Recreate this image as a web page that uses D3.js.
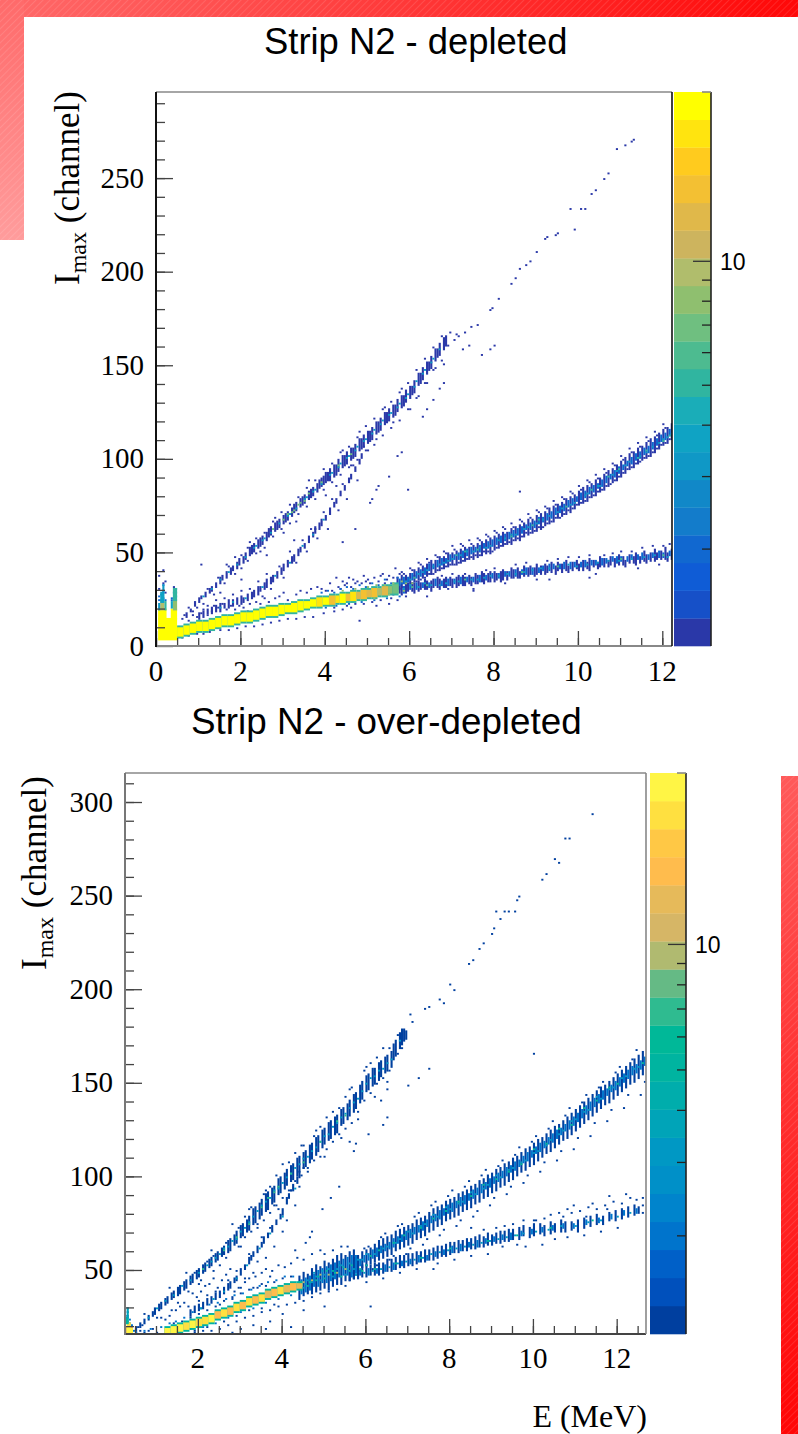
<!DOCTYPE html>
<html><head><meta charset="utf-8">
<script src="https://cdn.jsdelivr.net/npm/d3@7"></script>
<style>html,body{margin:0;padding:0;background:#fff}svg{display:block}</style>
</head><body><svg id="c" width="798" height="1434"></svg>
<script>
// axis labels
const xTicksTop=[0,2,4,6,8,10,12], yTicksTop=[0,50,100,150,200,250];
const xTicksBot=[2,4,6,8,10,12], yTicksBot=[50,100,150,200,250,300];
const barTicks=[2,3,4,5,6,7,8,9,10];
// 20-level palettes, bottom to top
const paletteTop=["#2A38A8","#1650C8","#0F5CD6","#1168D0","#137CCB","#1188C8","#0F98C6","#0FA3C4","#1AADB8","#30B5A0","#4DBB90","#6FBF80","#8FBF6F","#B0BD6C","#CDB45E","#E0B84A","#F3C033","#FFCB1E","#FFE40F","#FFFF00"];
const paletteBot=["#003F9F","#0050BC","#0060C8","#0074CC","#0084CC","#0090C8","#0098C4","#00A4B8","#00ADAC","#00B4A0","#00B898","#2FBB90","#65BA85","#B0BA70","#D6B666","#E6BA5A","#FFBC4D","#FFC845","#FFE040","#FFF545"];

// TOP PANEL: bins are E/0.05, channels are Imax.  blocks: bin0,bin1,lo,hi,count
const topLowBlocks=[[1,9,3,14,26],[1,4,14,19,26],[7,9,14,19,26],[2,3,19,23,9],[8,9,19,24,8],[2,3,23,28,4],[8,9,24,30,5],[3,3,28,32,3],[1,1,19,22,3],[4,4,19,23,5],[7,7,20,23,4]];
const topCore=[[10,12,5,9,26],[13,15,6,10,26],[16,18,7,11,26],[19,21,8,12,26],[22,24,8,12,26],[25,27,9,13,26],[28,30,10,14,26],[31,33,11,15,26],[34,36,11,15,26],[37,39,12,16,26],[40,42,13,17,26],[43,45,13,17,26],[46,48,14,18,26],[49,51,15,19,26],[52,54,16,20,26],[55,57,16,20,26],[58,60,17,21,26],[61,63,18,21,26],[64,66,18,22,26],[67,69,19,23,26],[70,72,20,23,26],[73,75,21,24,26],
[76,78,21,25,20],[79,81,22,25,26],[82,84,22,26,15],[85,86,23,26,20],[87,89,23,27,26],[90,91,24,27,15],[92,94,24,28,20],[95,96,25,28,12],[97,99,25,29,15],[100,101,26,29,12],[102,104,26,30,15],[105,106,27,30,10],[107,109,27,31,12],[110,111,28,31,8],[112,114,28,32,7]];
const topUpperLineRuns=[14,15,17,16,18,19,18,21,23,20,23,25,21,25,26,23,26,28,25,28,30,26,29,31,28,31,33,30,33,36,31,35,37,33,36,39,35,38,41,36,40,42,38,41,44,39,43,46,41,44,47,42,46,49,44,48,52,45,49,53,46,50,54,48,52,56,49,53,57,50,54,58,52,56,60,53,58,62,54,59,63,56,61,65,57,62,66,58,63,67,60,65,69,61,66,70,62,67,71,64,69,73,65,71,75,66,72,76,68,74,78,69,75,79,70,76,80,72,78,82,73,79,83,74,80,84,76,82,86,77,84,88,78,85,89,79,86,90,80,87,92,81,88,92,82,88,94,84,90,96,85,91,96,86,93,99,88,95,101,89,96,101,90,97,103,92,99,105,93,100,105,94,101,107,96,104,110,97,105,110,98,106,112,100,108,114,101,109,114,102,110,116,104,113,119,105,114,119,106,115,121,108,118,124,109,119,124,110,120,126,112,122,128,113,123,128,114,125,131,116,127,133,117,128,133,118,130,136,120,132,138,121,134,138,122,135,141,124,139,145,125,140,145,126,142,148,128,145,151,129,147,151,130,148,154,132,152,158,133,154,158,134,155,161,136,158,164,137,160,165];
const topUpperLineN3=[22,26,26,30,30,35,34,39,38,43,42,47,46,52,50,56,54,60,58,65,62,69,66,73,70,78,74,82,78,86,82,91,86,95,90,100,94,104,98,109,102,113,106,118,110,123,114,127,118,132,122,138,126,145,130,151,134,158,47,53,51,57,63,70,71,79,75,83,83,92,87,97,91,101,95,106,99,110,103,115,107,120,111,124,115,129,119,134,123,141,127,147,131,153];
const topUpperLineN7=[60,67,62,70,64,71,65,72,67,75,68,76,70,77,55,62,78,87,72,81,86,96,92,102];
const topUpperLineN1=[30,28,33,43,37,47,44,55,49,50,56,68,60,60,66,66,72,88,80,80,85,85,88,104,92,96,96,114,100,104,104,110,108,127,112,119,116,137,120,126,124,133,128,140,132,148,136,150,15,20,17,16,19,20,22,22,24,30,27,27,29,36,32,33,34,42,37,38,40,41,40,48,43,45,43,52,47,49,47,57,51,52,51,60,55,58,55,66,59,62,59,71,63,65,63,75,67,70,67,79,71,74,71,84,75,78,75,88,79,83,79,94,83,87,83,97,87,91,87,103,91,95,91,106,95,99,95,111,99,104,99,117,103,107,103,121,107,112,107,126,111,116,111,130,115,120,115,135,119,126,119,140,123,132,123,147,127,140,127,153,131,147,131,159,135,152,135,165,138,160,139,167,141,163,143,165];
const topTailN1=[142,166,146,167,149,170,152,171,158,179,159,180,162,185,168,193,170,196,172,201,175,203,177,205,180,210,184,217,185,218,189,219,190,220,196,233,198,222,201,233,203,233,206,241,208,243,212,249,214,252,218,265,222,267,225,269,226,270,131,131,134,137,136,140,145,158,148,160,158,158,160,160,154,155,114,101,116,103,104,83,101,76,105,85,94,62,119,83,172,82,102,78,110,90,126,122,128,126];
const topMiddleRuns=[20,14,17,22,15,18,24,17,19,26,17,20,28,18,21,30,18,22,32,20,22,34,20,24,36,21,24,38,22,25,40,22,26,41,23,25,43,24,27,45,25,28,46,26,29,48,27,31,49,29,31,51,30,33,52,31,35,54,33,36,55,34,37,57,36,39,59,38,41,60,40,43,62,42,45,64,44,47,65,45,48,67,48,51,68,50,52,70,52,54,72,55,58,74,58,60,75,60,63,77,62,65,78,64,67,80,67,69,82,70,73,84,74,76,85,76,78,87,80,82,89,83,85,91,87,89,92,89,91,94,93,95,96,97,99,97,100,102];
const topMiddleN1=[24,21,28,24,32,25,36,27,40,29,44,30,48,34,50,26,52,38,54,30,58,42,60,36,63,50,66,44,69,56,71,50,73,62,76,57,79,71,81,62,83,78,86,72,88,86,90,78,93,96,95,88,98,106];
const topMiddleN3=[30,20,36,23,42,25,50,31,56,37,63,44,69,53,74,59,79,67];
const topLowerRuns=[112,27,31,113,28,32,115,28,32,116,27,31,118,28,33,119,29,33,121,29,33,122,28,33,124,29,34,125,30,33,127,30,35,128,30,34,130,29,34,131,31,35,133,31,36,134,30,35,136,31,35,137,31,36,139,32,36,140,31,35,142,31,36,143,32,37,145,32,37,146,32,36,148,33,37,149,32,36,151,33,38,152,33,37,154,34,39,155,33,38,157,34,38,158,34,39,160,34,39,161,35,38,163,34,39,164,35,40,166,35,39,168,36,41,169,36,40,171,36,41,172,36,39,174,37,42,176,37,41,177,38,42,179,37,41,180,38,43,182,38,42,184,38,43,185,39,42,187,39,44,189,38,42,190,40,44,192,39,43,194,40,45,195,39,42,197,40,44,199,41,45,200,40,43,202,40,45,204,41,44,205,40,46,207,42,45,209,41,44,210,42,47,212,42,46,214,42,45,215,43,47,217,42,46,219,43,48,221,43,47,222,42,45,224,44,48,226,44,47,227,43,49,229,44,47,231,45,50,232,44,48,234,45,49,236,45,51,237,46,49,239,46,50,241,46,52,242,45,49,244,46,51];
const topLowerRunsN2=[113,29,31,117,28,31,120,30,32,123,30,33,126,31,33,129,31,33,132,32,35,135,32,34,138,32,35,141,33,35,144,33,36,147,34,36,150,34,36,153,34,37,156,35,37,159,36,38,162,36,38,165,37,39,167,37,39,170,37,40,173,38,40,175,38,41,178,38,41,181,39,41,183,40,42,186,40,43,188,41,43,191,41,43,193,41,44,196,41,44,198,42,44,201,42,44,203,42,45,206,43,45,208,43,45,211,43,46,213,44,46,216,45,47,218,44,47,220,45,47,223,45,47,225,46,48,228,46,48,230,46,49,233,46,48,235,47,49,238,47,50,240,47,49,243,48,50];
const topLowerN1=[135,37,140,38,146,38,150,29,156,40,160,41,165,33,170,43,175,44,180,35,185,45,190,46,195,47,200,47,205,48,208,38,212,48,216,49,220,50,225,50,228,41,230,52,235,53,238,43,240,53,243,54,122,37,130,38,138,30];
const topLowerN3=[117,30,124,31,130,32,137,33,143,34,149,35,155,36,162,37,170,38,178,40,186,41,195,43,204,43,214,45,225,46,236,48,120,32,127,33,134,32,141,34,152,35,158,37,166,38,174,39,182,41,199,42,209,44,219,45,231,47,242,47];
const topLowerN6=[121,31,128,32,146,35,173,39,190,42,220,46,240,48];
const topBranchRuns=[114,30,36,116,31,37,118,31,37,120,33,38,122,34,40,124,35,41,126,36,42,128,37,43,130,38,45,132,39,45,134,40,47,136,41,47,138,42,49,140,43,49,142,43,50,144,44,51,146,45,52,148,46,52,150,46,53,152,47,54,154,48,55,156,49,56,158,49,57,160,51,58,162,52,59,164,53,60,166,54,60,168,54,62,170,56,63,172,56,64,174,58,65,176,59,67,178,60,67,180,61,69,182,62,70,184,64,71,186,65,73,188,66,74,190,68,75,192,69,76,194,70,78,196,71,79,198,73,80,200,75,82,202,76,84,204,77,85,206,79,86,208,80,88,210,82,89,212,83,91,214,85,93,216,87,94,218,88,96,220,90,98,222,92,100,224,94,102,226,95,103,228,97,105,230,99,106,232,100,108,234,101,110,236,103,111,238,105,113,240,107,115,242,108,116,244,110,118];
const topBranchRunsN2=[115,32,35,117,33,36,119,34,36,121,35,38,123,36,39,125,37,40,127,38,41,129,40,43,131,41,43,133,42,45,135,43,46,137,44,46,139,45,48,141,46,48,143,46,49,145,47,50,147,48,51,149,49,52,151,50,52,153,50,53,155,52,54,157,52,55,159,53,56,161,54,57,163,55,58,165,56,59,167,57,60,169,58,61,171,59,62,173,60,63,175,62,64,177,62,65,179,63,66,181,65,68,183,66,68,185,67,70,187,68,71,189,70,73,191,71,74,193,72,75,195,74,77,197,75,78,199,77,79,201,78,81,203,79,82,205,81,84,207,82,85,209,84,86,211,85,88,213,87,90,215,89,91,217,90,93,219,92,95,221,94,96,223,96,98,225,97,100,227,99,102,229,100,103,231,102,105,233,103,106,235,105,108,237,107,110,239,109,112,241,110,113,243,112,115];
const topBranchEdgeN1=[115,30,117,38,119,32,121,40,123,34,125,43,127,36,129,44,131,38,133,47,135,41,137,49,139,43,141,51,143,44,145,53,147,46,149,54,151,48,153,56,155,50,157,58,159,50,161,60,163,53,165,62,167,55,169,63,171,57,173,66,175,60,177,68,179,61,181,71,183,63,185,73,187,66,189,75,191,68,193,78,195,72,197,81,199,75,201,83,203,77,205,87,207,80,209,89,211,83,213,92,215,86,217,96,219,90,221,99,223,94,225,103,227,97,229,106,231,100,233,109,235,103,237,112,239,107,241,116,243,110,117,31,121,33,125,35,129,38,133,40,137,42,141,43,145,45,149,47,153,48,157,50,161,52,165,54,169,56,173,58,177,60,181,63,185,65,189,68,193,70,197,73,201,76,205,79,209,82,213,85,217,88,221,92,225,95,229,98,233,101,237,105,241,108,116,39,120,41,124,44,128,46,132,48,136,50,140,53,144,54,148,56,152,57,156,59,160,61,164,63,168,65,172,67,176,70,180,72,184,74,188,77,192,79,196,82,200,85,204,88,208,91,212,94,216,97,220,101,224,105,228,108,232,111,236,114,240,118];
const topBranchN3=[120,35,126,39,131,42,136,44,140,46,147,50,153,52,158,53,165,57,170,59,176,63,183,67,190,71,196,75,203,80,209,85,216,91,222,96,229,101,235,106,240,110,244,113,118,34,124,38,128,40,134,43,138,45,144,48,150,50,156,52,162,56,168,59,174,62,180,65,186,69,192,73,198,76,204,81,210,85,218,93,224,98,232,103,238,108,242,111];
const topBranchN5=[122,36,142,48,168,58,181,67,206,83,219,94,232,104,243,112,146,50,152,51,178,64,194,74,214,90,228,100,240,109];
// scatter around the main band and the low-energy spikes
const topScatterN1=[3,33,4,28,1,30,3,40,1,37,8,31,9,28,4,34,21,43,12,14,13,16,15,13,17,18,19,15,21,17,22,19,24,16,26,18,27,21,29,20,31,22,33,19,35,21,37,19,39,21,41,20,43,18,44,22,47,23,49,22,51,25,53,23,56,25,58,26,60,28,62,24,66,27,68,29,71,28,73,30,76,31,78,30,82,33,85,36,88,34,91,36,94,33,98,37,103,36,107,38,110,37,113,41,12,4,15,5,19,6,22,6,25,7,30,8,34,8,38,9,42,10,46,10,50,11,54,12,58,13,62,14,66,14,70,15,74,15,79,17,84,18,88,19,92,20,96,13,104,21,110,22,114,24,118,26,128,26,150,30,205,36,186,35,40,35,52,48,65,56,88,55,75,62,83,29,86,31,89,32,92,31,95,34,97,33,100,35,101,33,105,34,106,37,108,33,109,35,112,36,115,38,80,29,87,30,90,33,93,35,99,34,84,20,90,21,94,22,98,22,102,23,106,24,111,25];
const topMidN2=[78,28,81,29,84,28,87,30,90,31,93,30,96,32,99,31,102,33,105,32,108,35,111,33,114,36,116,33,80,20,85,21,91,22,97,23,103,24,109,25,115,26];
const topMidN8=[88,29,94,30,100,31,104,32,108,32,112,33,116,34,118,33,121,33,103,25,110,27,117,29];
const topSpikeN2=[2,24,3,25,2,27,3,29,3,32,8,25,9,26,8,28,9,30,1,24,1,26,4,24,7,24,7,25];
// BOTTOM PANEL
const botLowBlocks=[[5,8,16,19,12],[6,7,19,21,20],[6,8,16,18,26],[5,6,21,24,5],[6,6,24,29,4]];
const botCore=[[24,26,15,18,26],[27,29,16,19,26],[30,32,17,20,26],[33,35,18,21,20],[36,38,19,22,26],[39,41,20,23,20],[42,44,21,24,20],[45,47,22,25,26],[48,50,24,27,15],[51,53,25,28,20],[54,56,26,29,15],[57,59,28,31,20],[60,62,29,32,15],[63,65,31,34,20],[66,68,32,35,15],[69,71,33,36,20],[72,74,35,38,12],[75,77,36,39,15],[78,80,37,40,20],[81,83,38,41,12],[84,86,39,42,15],[87,89,40,42,12]];
const botUpperLineRuns=[10,17,19,12,19,21,14,21,23,16,23,25,18,25,27,19,26,29,21,28,31,22,29,32,24,31,34,25,32,35,27,34,37,28,35,38,30,36,40,31,37,41,33,39,43,34,40,44,36,42,46,37,43,47,39,45,49,40,46,50,42,48,52,43,49,53,45,51,55,46,52,56,48,54,58,49,55,59,51,57,61,52,58,62,54,59,65,55,60,66,57,63,68,58,64,70,60,67,73,61,68,74,63,70,76,64,71,78,66,74,82,67,75,83,69,77,85,70,79,87,72,81,90,73,82,91,75,85,93,76,86,94,78,90,98,79,91,99,81,93,101,82,95,103,84,97,105,85,98,106,87,100,109,88,102,110,90,104,112,91,105,113,93,107,116,94,109,117,96,111,120,97,113,121,99,115,124,100,117,125,102,119,128,103,120,129,105,122,131,106,123,132,108,127,135,109,128,136,111,130,138,112,132,140,114,134,143,115,136,144,117,139,148,118,141,150,120,145,153,121,146,154,123,148,157,124,149,157,126,151,160,127,153,161,129,155,163,130,156,164,132,158,166,133,162,170,134,164,172,136,168,176,137,170,178,138,172,178,139,173,177];
const botUpperLineN3=[16,24,20,29,24,33,28,36,32,41,36,44,40,48,44,52,48,56,52,61,56,65,60,70,64,75,68,81,72,86,76,92,80,96,84,101,88,106,92,110,96,115,100,121,104,126,108,131,112,136,116,141,120,149,124,153,128,157,132,162,136,172,46,54,50,58,54,62,58,66,62,72,66,78,70,84,74,88,78,93,82,99,86,104,90,109,94,113,98,118,102,122,106,128,110,133,114,139,118,145,122,152,126,156,130,160];
const botUpperLineN7=[42,50,58,67,70,83,73,88,76,91,78,94,84,101,98,118,106,129,52,60,64,74,90,107,110,132];
const botUpperLineN1=[14,26,20,24,26,40,30,32,34,48,40,42,46,60,50,52,56,74,60,62,64,82,68,74,72,92,76,84,80,106,84,92,90,116,92,102,96,124,100,110,104,134,108,120,112,146,116,130,120,158,124,142,128,168,130,146,35,38,38,48,41,44,44,54,47,49,47,57,53,56,53,64,59,62,59,72,62,67,62,78,65,70,65,83,68,72,71,76,71,90,74,80,74,94,77,84,77,100,80,88,83,92,83,107,86,97,86,112,89,100,89,116,92,104,95,108,95,121,98,110,98,126,101,114,101,131,104,118,107,122,107,136,110,125,110,142,113,128,113,147,116,134,119,140,119,156,122,144,122,160,125,149,125,163,128,152,131,156,131,168,135,165,135,175,137,168];
const botTailN1=[141,186,142,182,148,189,150,190,155,194,157,192,160,202,162,199,169,213,171,215,174,221,176,224,180,229,181,232,184,237,182,241,186,241,188,241,191,241,192,247,193,249,204,258,206,261,210,269,212,267,215,280,217,280,228,293,200,165,112,118,115,117,114,113,121,122,128,127,130,131,127,140,130,150,93,67,94,70,91,64,99,82,103,88,107,94,86,60,70,42,74,46,66,40,140,148,145,152,150,157];
const botMiddleRuns=[36,25,28,38,27,30,40,28,31,42,29,32,44,31,34,46,32,35,48,34,37,50,35,38,52,37,40,54,39,42,55,40,43,57,43,45,58,44,46,60,47,50,62,50,52,64,53,56,65,55,57,66,57,59,68,59,62,70,62,64,71,64,67,73,67,69,75,70,73,77,74,76,79,77,79,80,79,82,82,85,88,83,88,90,85,92,95,87,96,99,88,99,102];
const botMiddleN1=[40,33,44,36,48,38,50,31,54,44,56,34,58,49,60,40,62,45,64,58,66,48,68,54,70,67,72,56,74,72,76,62,78,82,80,70,82,76,84,92,86,84,88,94,90,104];
const botMiddleN3=[41,29,47,34,52,38,58,45,63,52,69,61,74,69,80,78,86,93];
const botMidRuns=[88,34,46,90,36,48,92,37,47,94,37,50,96,38,52,98,39,51,100,40,54,102,39,53,104,41,55,106,42,57,108,42,58,110,44,57,112,44,59,114,45,60];
const botMidRunsN2=[89,37,44,91,38,45,93,39,46,95,41,47,97,41,49,99,43,50,101,43,51,103,44,52,105,45,53,107,46,54,109,47,55,111,47,56,113,48,57,115,48,57];
const botMidN3=[90,40,92,44,94,43,96,46,98,44,100,47,102,50,104,46,106,50,108,52,110,47,112,53,114,50,116,55,91,42,95,48,99,49,103,47,107,52,111,50];
const botMidN5=[88,43,93,43,97,46,101,49,105,48,109,51,113,52,117,50,120,52,92,41,96,44,100,45,104,49,108,46,112,49];
const botMidN10=[90,43,94,44,98,47,102,47,106,48,110,50];
const botLowerRuns=[112,44,49,114,45,50,116,45,51,118,46,52,120,46,52,122,47,52,124,47,53,126,47,53,128,48,53,130,49,55,132,49,55,134,50,56,136,51,57,138,51,57,140,52,58,142,52,58,144,53,59,146,54,59,148,54,60,150,55,60,152,55,61,154,56,62,156,57,62,158,57,63,160,58,64,162,59,64,164,59,65,166,60,65,168,60,66,170,61,66,172,61,67,174,62,68,176,62,67,178,63,69,180,63,68,182,64,69,184,64,70,186,65,70,188,65,71,190,66,71,193,66,72,195,68,73,198,67,72,200,68,74,203,69,74,205,68,73,208,69,75,210,70,74,213,70,76,215,70,75,218,71,75,221,70,76,224,72,77,227,73,78,230,74,79,233,74,78,236,76,80,239,76,81,242,77,82,245,78,83,248,79,84,250,80,83];
const botLowerRunsN2=[113,46,48,117,47,49,121,47,50,125,48,50,129,49,52,133,50,53,137,52,54,141,53,55,145,54,57,149,55,57,153,57,59,157,58,60,161,59,62,165,60,63,169,62,64,173,62,65,177,64,66,181,65,67,185,66,68,189,66,69,194,68,70,199,69,71,204,70,72,209,71,73,214,72,74,219,72,74,225,74,76,231,75,77,237,77,79,243,79,81,249,80,82];
const botLowerN3=[115,47,119,48,123,49,127,50,131,51,135,53,139,54,143,55,147,56,151,58,155,59,159,60,163,61,167,62,171,63,175,64,179,65,183,66,187,67,191,68,195,69,201,70,207,71,213,73,220,73,226,75,232,76,240,78,246,80];
const botLowerN6=[118,49,124,50,134,53,146,56,160,61,178,65,192,68,208,72,228,76];
const botLowerN1=[170,72,176,71,182,72,186,73,190,74,195,76,200,76,205,77,208,79,214,78,218,80,222,81,226,83,230,82,234,84,238,86,242,85,246,88,249,87,252,84,252,88,252,80,196,62,204,63,210,66,216,67,224,68,232,70,240,72,178,58,152,50,201,76,212,80,219,84,228,85,236,89,244,90,120,43,128,45,136,48,144,50,154,53,162,55,170,57,185,62,192,63,216,82,225,78,235,82];
const botBranchRuns=[114,49,56,116,50,57,118,51,59,120,52,60,122,53,61,124,54,63,126,55,65,128,56,66,130,57,67,132,58,68,134,60,70,136,61,71,138,62,72,140,63,73,142,64,74,144,66,76,146,67,77,148,68,78,150,70,80,152,71,82,154,73,83,156,74,84,158,76,86,160,77,87,162,78,88,164,79,90,166,81,91,168,82,92,170,83,94,172,85,95,174,86,97,176,88,98,178,89,100,180,91,101,182,92,103,184,94,104,186,95,106,188,97,107,190,98,109,192,100,110,194,102,112,196,103,114,198,105,115,200,106,117,202,108,119,204,110,120,206,112,122,208,113,124,210,115,126,212,117,127,214,119,129,216,120,131,218,122,133,220,124,135,222,126,137,224,128,139,226,130,141,228,132,143,230,134,145,232,136,147,234,138,148,236,139,150,238,141,152,240,143,154,242,145,156,244,147,158,246,149,160,248,150,162,250,152,164,252,154,166,254,156,168];
const botBranchRunsN2=[115,51,54,117,52,55,119,54,57,121,55,58,123,56,60,125,57,61,127,59,62,129,60,63,131,61,64,133,62,66,135,64,67,137,65,68,139,66,70,141,67,71,143,69,72,145,70,73,147,71,75,149,73,76,151,75,78,153,76,79,155,77,81,157,79,82,159,80,84,161,81,85,163,83,86,165,84,88,167,85,89,169,87,90,171,88,92,173,90,93,175,91,95,177,93,96,179,94,98,181,96,99,183,97,101,185,99,102,187,100,104,189,102,105,191,103,107,193,105,108,195,107,110,197,108,112,199,110,113,201,112,115,203,113,117,205,115,118,207,117,120,209,118,122,211,120,124,213,122,125,215,124,127,217,125,129,219,127,131,221,129,133,223,131,135,225,133,137,227,135,139,229,137,141,231,139,143,233,141,145,235,143,146,237,145,148,239,146,150,241,148,152,243,150,154,245,152,156,247,154,158,249,155,159,251,157,161,253,159,163];
const botBranchEdgeN1=[115,47,119,61,123,50,127,67,131,55,135,73,139,58,143,78,147,63,151,84,155,68,159,89,163,73,167,94,171,78,175,100,179,84,183,105,187,90,191,111,195,96,199,118,203,102,207,125,211,108,215,132,219,114,223,139,227,121,231,147,235,129,239,155,243,136,247,162,251,143,121,62,129,69,137,74,145,80,153,86,161,92,169,97,177,103,185,108,193,115,201,121,209,129,217,136,225,143,233,150,241,158,249,167,117,49,125,52,133,57,141,61,149,66,157,71,165,76,173,81,181,88,189,94,197,100,205,107,213,113,221,120,229,128,237,135,245,143,253,150];
const botBranchN3=[118,55,124,58,130,62,136,66,142,69,148,74,154,78,160,82,166,86,172,90,178,95,184,99,190,104,196,108,202,113,208,119,214,124,220,130,226,135,232,141,238,147,244,153,250,158,120,58,128,61,134,64,140,70,146,73,152,79,158,83,164,85,170,91,176,93,182,100,188,103,194,107,200,112,206,116,212,122,218,129,224,134,230,142,236,146,242,152,248,157];
const botBranchN6=[122,57,133,64,146,72,158,81,170,89,182,98,194,106,206,117,218,127,230,140,240,149,252,160,126,60,138,68,152,77,164,86,176,95,188,102,200,114,212,125,224,136,236,147];
// scatter
const botScatterN1=[10,16,12,17,14,16,16,17,18,18,20,16,11,19,13,20,22,24,24,23,26,25,27,28,29,28,31,30,33,32,35,30,37,37,39,35,41,38,43,41,45,42,47,45,49,40,51,44,53,47,55,50,57,38,59,40,62,43,64,45,67,46,70,48,72,50,75,49,78,52,81,51,84,53,87,56,90,55,94,58,98,60,100,58,104,60,108,62,111,62,30,14,34,15,38,16,42,17,46,17,50,18,54,20,58,22,62,24,66,25,70,27,74,28,78,30,82,31,86,32,90,33,94,35,98,37,102,38,106,39,110,41,56,16,60,18,66,20,74,22,80,26,84,19,90,28,72,18,100,30,122,30,28,21,32,22,36,24,40,26,44,28,48,30,52,33,56,35,60,37,64,39,68,40,72,41,76,43,80,45,84,46,30,14,38,17,44,19,52,22,58,25,64,28,70,29,76,31];
const botScatterN2=[14,17,17,18,22,19,26,21,29,22,33,24,37,27,41,29,45,31,49,32,53,34,57,36,61,37,65,39,69,41,73,43,77,44,81,46,85,46,30,16,36,18,42,19,48,21,54,24,60,27,66,29,72,32,78,34,84,36];
const botSpikeN2=[6,22,6,25,6,27,7,23,5,25,6,29,8,20,9,17,10,16,4,18,5,17,7,21];
const rect=(svg,x,y,w,h,fill)=>svg.append("rect").attr("x",x).attr("y",y).attr("width",w).attr("height",h).attr("fill",fill);
const svg=d3.select("#c");
const defs=svg.append("defs");
function grad(id,x1,y1,x2,y2,c1,c2){const g=defs.append("linearGradient").attr("id",id).attr("gradientUnits","userSpaceOnUse").attr("x1",x1).attr("y1",y1).attr("x2",x2).attr("y2",y2);g.append("stop").attr("offset",0).attr("stop-color",c1);g.append("stop").attr("offset",1).attr("stop-color",c2);}
grad("gt",0,0,798,0,"#FF6A6A","#FF0808");grad("gl",0,0,0,240,"#FF6A6A","#FF9C9C");grad("gr",0,776,0,1434,"#FF5A5A","#FF0505");
const pat=defs.append("pattern").attr("id","hatch").attr("width",5).attr("height",5).attr("patternUnits","userSpaceOnUse").attr("patternTransform","rotate(45)");
pat.append("line").attr("x1",0).attr("y1",0).attr("x2",0).attr("y2",5).attr("stroke","#fff").attr("stroke-opacity",.16).attr("stroke-width",1.4);
const blur=defs.append("filter").attr("id","soft").attr("x",0).attr("y",0).attr("width",1).attr("height",1);blur.append("feGaussianBlur").attr("stdDeviation",.38);
[[24,0,774,17,"gt"],[0,0,24,240,"gl"],[781,776,17,658,"gr"]].forEach(([x,y,w,h,g])=>{rect(svg,x,y,w,h,`url(#${g})`);rect(svg,x,y,w,h,"url(#hatch)");});

const binW=0.05;
const triples=(a,n)=>d3.range(0,a.length,3).map(i=>({b0:a[i],b1:a[i],lo:a[i+1],hi:a[i+2],n}));
const pairs=(a,n)=>d3.range(0,a.length,2).map(i=>({b0:a[i],b1:a[i],lo:a[i+1],hi:a[i+1],n}));
const blocks=a=>a.map(([b0,b1,lo,hi,n])=>({b0,b1,lo,hi,n}));
const halo=(a,n)=>a.map(([b0,b1,lo,hi])=>({b0,b1,lo:lo-1,hi:hi+1,n}));

function panel(o){
  const x=d3.scaleLinear(o.xDom,o.xR),y=d3.scaleLinear(o.yDom,o.yR);
  const z=d3.scaleLog([1.16,26],[0,1]).clamp(true),col=d3.scaleQuantize([0,1],o.pal);
  const id="clip"+o.id;
  defs.append("clipPath").attr("id",id).append("rect").attr("x",o.xR[0]).attr("y",o.yR[1]).attr("width",o.xR[1]-o.xR[0]).attr("height",o.yR[0]-o.yR[1]);
  const g=svg.append("g").attr("clip-path",`url(#${id})`).append("g").attr("filter","url(#soft)");
  g.selectAll("rect").data(o.cells).join("rect")
   .attr("x",d=>x(d.b0*binW)).attr("width",d=>x((d.b1+1)*binW)-x(d.b0*binW))
   .attr("y",d=>y(d.hi+1)).attr("height",d=>y(d.lo)-y(d.hi+1)).attr("fill",d=>col(z(d.n)));
  const tickAxis=(ax,at,vals,len)=>{const s=svg.append("g").attr("transform",at).call(ax.tickValues(vals).tickSize(len).tickFormat(""));s.select(".domain").remove();s.selectAll("line").attr("stroke",o.tickCol).attr("stroke-width",1.3);};
  tickAxis(d3.axisRight(y),`translate(${o.xR[0]},0)`,o.yMinor,9);
  tickAxis(d3.axisRight(y),`translate(${o.xR[0]},0)`,o.yMajor,17);
  tickAxis(d3.axisTop(x),`translate(0,${o.yR[0]})`,o.xMinor,8);
  tickAxis(d3.axisTop(x),`translate(0,${o.yR[0]})`,o.xMajor,15);
  const fr=(x1,y1,x2,y2,c,w)=>svg.append("line").attr("x1",x1).attr("y1",y1).attr("x2",x2).attr("y2",y2).attr("stroke",c).attr("stroke-width",w);
  fr(o.xR[0],o.yR[1],o.xR[1],o.yR[1],"#888",1.6);
  fr(o.xR[0],o.yR[0],o.xR[1],o.yR[0],o.botCol,2);
  fr(o.xR[0],o.yR[0]+1,o.xR[0],o.yR[1],o.leftCol,2);
  fr(o.xR[1],o.yR[0],o.xR[1],o.yR[1],o.rightCol,1.6);
  const serif="'Liberation Serif',serif",sans="'Liberation Sans',Arial,sans-serif";
  svg.append("g").selectAll("text").data(o.xMajor).join("text").attr("x",d=>x(d)).attr("y",o.yR[0]+o.xLabDy).attr("text-anchor","middle").attr("font-family",serif).attr("font-size",29).attr("fill","#000").text(d=>d);
  svg.append("g").selectAll("text").data(o.yMajor).join("text").attr("x",o.xR[0]-12).attr("y",d=>y(d)+9.5).attr("text-anchor","end").attr("font-family",serif).attr("font-size",29).attr("fill","#000").text(d=>d);
  svg.append("text").attr("x",o.titleX).attr("y",o.titleY).attr("font-family",sans).attr("font-size",o.titleSize).attr("fill","#000").text(o.title);
  const yt=svg.append("text").attr("transform",`translate(${o.ytX},${o.ytY}) rotate(-90)`).attr("font-family",serif).attr("font-size",35).attr("fill","#000");
  yt.append("tspan").text("I");yt.append("tspan").attr("font-size",24).attr("dy",7).text("max");yt.append("tspan").attr("dy",-7).text(" (channel)");
  const lv=d3.scaleLinear([0,o.pal.length],o.yR);
  svg.append("g").selectAll("rect").data(o.pal).join("rect").attr("x",o.barX0).attr("width",o.barX1-o.barX0).attr("y",(d,i)=>lv(i+1)).attr("height",(d,i)=>lv(i)-lv(i+1)+.3).attr("fill",d=>d);
  fr(o.barX1,o.yR[0],o.barX1,o.yR[1],"#222",1.6);
  const zy=d3.scaleLog([1.16,25.7],o.yR);
  const minor=svg.append("g").attr("transform",`translate(${o.barX1},0)`).call(d3.axisLeft(zy).tickValues(barTicks.slice(0,-1)).tickSize(9).tickFormat(""));minor.select(".domain").remove();minor.selectAll("line").attr("stroke","#222").attr("stroke-width",1.3);
  const maj=svg.append("g").attr("transform",`translate(${o.barX1},0)`).call(d3.axisLeft(zy).tickValues([10]).tickSize(18).tickFormat(""));maj.select(".domain").remove();maj.selectAll("line").attr("stroke","#333").attr("stroke-width",1.3);
  fr(o.barX1-9,o.yR[1],o.barX1,o.yR[1],"#888",1.6);
  svg.append("text").attr("x",o.barX1+9).attr("y",zy(10)+9).attr("font-family",sans).attr("font-size",23).attr("fill","#000").text("10");
}
const topCells=[...triples(topUpperLineRuns,1),...triples(topMiddleRuns,1),...triples(topLowerRuns,1),...triples(topBranchRuns,1),...pairs(topUpperLineN1,1),...pairs(topMiddleN1,1),...pairs(topLowerN1,1),...pairs(topBranchEdgeN1,1),...pairs(topTailN1,1),...pairs(topScatterN1,1),...triples(topLowerRunsN2,2),...triples(topBranchRunsN2,2),...pairs(topSpikeN2,2),...pairs(topMidN2,2),...halo(topCore,5),...blocks(topLowBlocks),...blocks(topCore),...pairs(topMidN8,8),...pairs(topUpperLineN3,3),...pairs(topMiddleN3,3),...pairs(topLowerN3,3),...pairs(topBranchN3,3),...pairs(topBranchN5,5),...pairs(topLowerN6,6),...pairs(topUpperLineN7,7)];
const botCells=[...triples(botUpperLineRuns,1),...triples(botMiddleRuns,1),...triples(botMidRuns,1),...triples(botLowerRuns,1),...triples(botBranchRuns,1),...pairs(botUpperLineN1,1),...pairs(botMiddleN1,1),...pairs(botBranchEdgeN1,1),...pairs(botTailN1,1),...pairs(botScatterN1,1),...pairs(botLowerN1,1),...triples(botMidRunsN2,2),...triples(botLowerRunsN2,2),...triples(botBranchRunsN2,2),...pairs(botScatterN2,2),...pairs(botSpikeN2,2),...halo(botCore,5),...blocks(botLowBlocks),...blocks(botCore),...pairs(botMidN3,3),...pairs(botMidN5,5),...pairs(botMidN10,10),...pairs(botUpperLineN3,3),...pairs(botMiddleN3,3),...pairs(botLowerN3,3),...pairs(botBranchN3,3),...pairs(botLowerN6,6),...pairs(botBranchN6,6),...pairs(botUpperLineN7,7)];
panel({id:"T",xDom:[0,12.23],xR:[156,672],yDom:[0,296],yR:[646,92],pal:paletteTop,cells:topCells,tickCol:"#444",
 yMinor:d3.range(10,300,10),yMajor:yTicksTop,xMinor:d3.range(0,12.5,.5),xMajor:xTicksTop,botCol:"#888",leftCol:"#111",rightCol:"#111",
 xLabDy:35,title:"Strip N2 - depleted",titleSize:36.4,titleX:264,titleY:54,ytX:79,ytY:285,barX0:674,barX1:711});
panel({id:"B",xDom:[0.26,12.7],xR:[125,646],yDom:[15.8,315.5],yR:[1334,773],pal:paletteBot,cells:botCells,tickCol:"#444",
 yMinor:d3.range(20,320,10),yMajor:yTicksBot,xMinor:d3.range(.5,13,.5),xMajor:xTicksBot,botCol:"#444",leftCol:"#777",rightCol:"#888",
 xLabDy:34,title:"Strip N2 - over-depleted",titleSize:36.8,titleX:191,titleY:734,ytX:46,ytY:970,barX0:650,barX1:686});
svg.append("text").attr("x",647).attr("y",1427).attr("text-anchor","end").attr("font-family","'Liberation Serif',serif").attr("font-size",32).attr("fill","#000").text("E (MeV)");
</script></body></html>
